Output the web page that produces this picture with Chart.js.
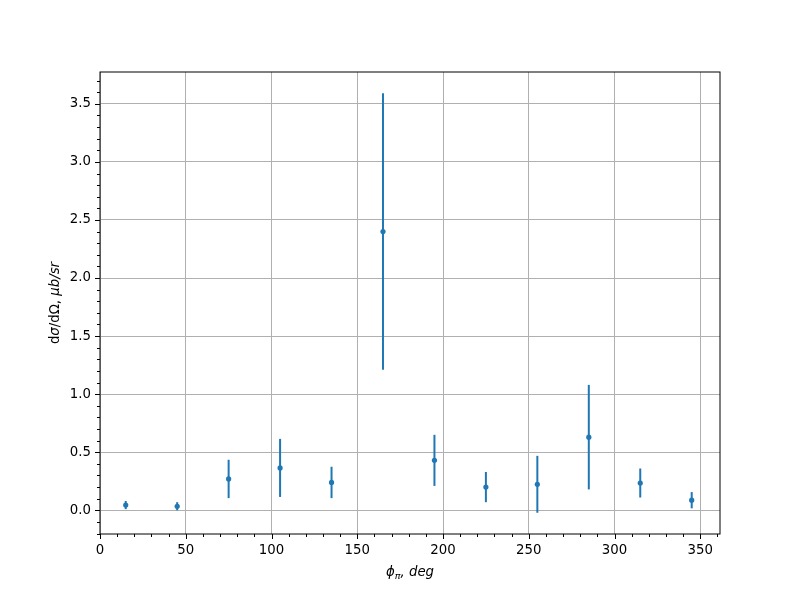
<!DOCTYPE html>
<html>
<head>
<meta charset="utf-8">
<script src="https://cdn.jsdelivr.net/npm/chart.js@4/dist/chart.umd.min.js"></script>
<style>body{margin:0;background:#fff}</style>
</head>
<body>
<canvas id="chart" width="800" height="600"></canvas>
<script>
// pion azimuthal angle (deg), cross section and its error (ub/sr)
const phi = [15, 45, 75, 105, 135, 165, 195, 225, 255, 285, 315, 345];
const xsec = [0.045, 0.035, 0.27, 0.365, 0.24, 2.40, 0.43, 0.20, 0.224, 0.63, 0.235, 0.087];
const xsecErr = [0.035, 0.035, 0.165, 0.25, 0.135, 1.19, 0.22, 0.13, 0.245, 0.45, 0.125, 0.07];

const xTickValues = [0, 50, 100, 150, 200, 250, 300, 350];
const xTickLabels = ['0', '50', '100', '150', '200', '250', '300', '350'];
const yTickValues = [0, 0.5, 1, 1.5, 2, 2.5, 3, 3.5];
const yTickLabels = ['0.0', '0.5', '1.0', '1.5', '2.0', '2.5', '3.0', '3.5'];

const blue = '#1f77b4';
const font = "'DejaVu Sans', sans-serif";

// error bars, frame, minor ticks and axis titles
const extras = {
  id: 'extras',
  beforeDatasetsDraw(chart) {
    const { ctx, scales: { x, y } } = chart;
    ctx.save();
    ctx.strokeStyle = blue;
    ctx.lineWidth = 2;
    phi.forEach((p, i) => {
      const px = x.getPixelForValue(p);
      ctx.beginPath();
      ctx.moveTo(px, y.getPixelForValue(xsec[i] - xsecErr[i]));
      ctx.lineTo(px, y.getPixelForValue(xsec[i] + xsecErr[i]));
      ctx.stroke();
    });
    ctx.restore();
  },
  afterDraw(chart) {
    const { ctx, chartArea: a, scales: { x, y } } = chart;
    ctx.save();
    ctx.strokeStyle = '#000';
    ctx.lineWidth = 1;
    ctx.strokeRect(a.left, a.top, a.right - a.left, a.bottom - a.top);

    ctx.beginPath();
    for (let v = 0; v <= 360; v += 10) {
      const px = Math.round(x.getPixelForValue(v)) + 0.5;
      const len = v % 50 === 0 ? 5 : 3;
      ctx.moveTo(px, a.bottom);
      ctx.lineTo(px, a.bottom + len);
    }
    for (let k = -2; k <= 37; k++) {
      const py = Math.round(y.getPixelForValue(k / 10)) + 0.5;
      const len = k % 5 === 0 ? 5 : 3;
      ctx.moveTo(a.left, py);
      ctx.lineTo(a.left - len, py);
    }
    ctx.stroke();

    // x title: phi_pi, deg
    ctx.fillStyle = '#000';
    ctx.textBaseline = 'alphabetic';
    const cx = (a.left + a.right) / 2;
    const parts = [
      { t: 'ϕ', f: 'italic 13.3px ' + font, dy: 0 },
      { t: 'π', f: 'italic 9.5px ' + font, dy: 3 },
      { t: ', deg', f: 'italic 13.3px ' + font, dy: 0 }
    ];
    let w = 0;
    parts.forEach(p => { ctx.font = p.f; w += ctx.measureText(p.t).width; });
    let sx = cx - w / 2;
    parts.forEach(p => {
      ctx.font = p.f;
      ctx.fillText(p.t, sx, 576 + p.dy);
      sx += ctx.measureText(p.t).width;
    });

    // y title: dsigma/dOmega, mub/sr
    const cy = (a.top + a.bottom) / 2;
    ctx.translate(59, cy);
    ctx.rotate(-Math.PI / 2);
    const yparts = [
      { t: 'd', f: '13.3px ' + font },
      { t: 'σ', f: 'italic 13.3px ' + font },
      { t: '/dΩ, ', f: '13.3px ' + font },
      { t: 'μb/sr', f: 'italic 13.3px ' + font }
    ];
    w = 0;
    yparts.forEach(p => { ctx.font = p.f; w += ctx.measureText(p.t).width; });
    sx = -w / 2;
    yparts.forEach(p => {
      ctx.font = p.f;
      ctx.fillText(p.t, sx, 0);
      sx += ctx.measureText(p.t).width;
    });
    ctx.restore();
  }
};

new Chart(document.getElementById('chart'), {
  type: 'scatter',
  data: {
    datasets: [{
      data: phi.map((p, i) => ({ x: p, y: xsec[i] })),
      backgroundColor: blue,
      borderColor: blue,
      borderWidth: 0,
      pointRadius: 2.6,
      pointHoverRadius: 2.6
    }]
  },
  options: {
    responsive: false,
    animation: false,
    events: [],
    layout: { padding: { left: 0, top: 72, right: 80, bottom: 0 } },
    plugins: { legend: { display: false }, tooltip: { enabled: false } },
    scales: {
      x: {
        type: 'linear',
        min: 0,
        max: 361.5,
        afterBuildTicks: s => { s.ticks = xTickValues.map(v => ({ value: v })); },
        afterFit: s => { s.height = 66; },
        grid: { color: '#b0b0b0', lineWidth: 1, drawTicks: false },
        border: { display: false },
        ticks: {
          padding: 9,
          color: '#000',
          font: { family: font, size: 13.3 },
          maxRotation: 0,
          callback: v => xTickLabels[xTickValues.indexOf(v)]
        }
      },
      y: {
        min: -0.204,
        max: 3.774,
        afterBuildTicks: s => { s.ticks = yTickValues.map(v => ({ value: v })); },
        afterFit: s => { s.width = 100; },
        grid: { color: '#b0b0b0', lineWidth: 1, drawTicks: false },
        border: { display: false },
        ticks: {
          padding: 9,
          color: '#000',
          font: { family: font, size: 13.3 },
          callback: v => yTickLabels[yTickValues.indexOf(v)]
        }
      }
    }
  },
  plugins: [extras]
});
</script>
</body>
</html>
